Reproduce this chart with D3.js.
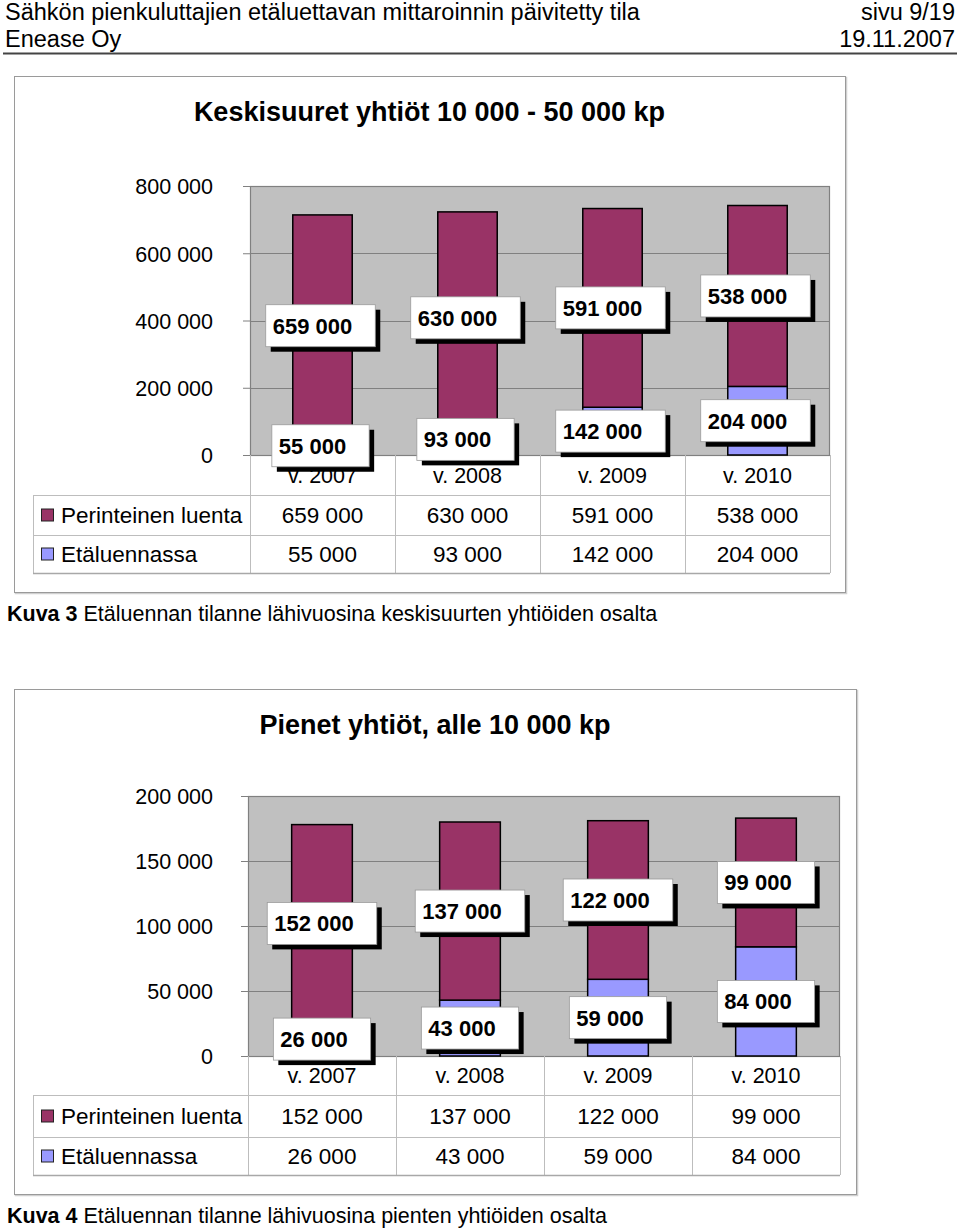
<!DOCTYPE html>
<html>
<head>
<meta charset="utf-8">
<script src="https://cdn.jsdelivr.net/npm/d3@7"></script>
<style>
  html, body { margin: 0; padding: 0; background: #fff; }
  svg { display: block; font-family: "Liberation Sans", Arial, Helvetica, sans-serif; }
</style>
</head>
<body>
<svg id="page" width="960" height="1228"></svg>
<script>
// ---- data ----
const categories = ["v. 2007", "v. 2008", "v. 2009", "v. 2010"];
const seriesNames = ["Perinteinen luenta", "Etäluennassa"];
const seriesColors = ["#993366", "#9999FF"];

const mediumTraditional = [659000, 630000, 591000, 538000];
const mediumRemote = [55000, 93000, 142000, 204000];
const mediumTicks = [0, 200000, 400000, 600000, 800000];

const smallTraditional = [152000, 137000, 122000, 99000];
const smallRemote = [26000, 43000, 59000, 84000];
const smallTicks = [0, 50000, 100000, 150000, 200000];

const headerLeft = ["Sähkön pienkuluttajien etäluettavan mittaroinnin päivitetty tila", "Enease Oy"];
const headerRight = ["sivu 9/19", "19.11.2007"];

const chart1Title = "Keskisuuret yhtiöt 10 000 - 50 000 kp";
const chart2Title = "Pienet yhtiöt, alle 10 000 kp";
const caption1 = ["Kuva 3", " Etäluennan tilanne lähivuosina keskisuurten yhtiöiden osalta"];
const caption2 = ["Kuva 4", " Etäluennan tilanne lähivuosina pienten yhtiöiden osalta"];

// ---- helpers ----
const fmt = d3.formatLocale({ thousands: " ", grouping: [3], decimal: ",", currency: ["", ""] }).format(",");
const svg = d3.select("#page");

// header
svg.append("text").attr("x", 5).attr("y", 20).attr("font-size", 23.5).attr("fill", "#000").text(headerLeft[0]);
svg.append("text").attr("x", 5).attr("y", 47).attr("font-size", 23.5).attr("fill", "#000").text(headerLeft[1]);
svg.append("text").attr("x", 955).attr("y", 20).attr("font-size", 23.5).attr("text-anchor", "end").text(headerRight[0]);
svg.append("text").attr("x", 955).attr("y", 47).attr("font-size", 23.5).attr("text-anchor", "end").text(headerRight[1]);
svg.append("line").attr("x1", 3).attr("x2", 957).attr("y1", 53.5).attr("y2", 53.5)
  .attr("stroke", "#444").attr("stroke-width", 2);

function drawChart(cfg) {
  const g = svg.append("g");
  const f = cfg.frame;
  // frame with slight shadow
  g.append("rect").attr("x", f.x + 1.5).attr("y", f.y + 1.5).attr("width", f.w).attr("height", f.h)
    .attr("fill", "none").attr("stroke", "#d0d0d0").attr("stroke-width", 1.5);
  g.append("rect").attr("x", f.x + 0.5).attr("y", f.y + 0.5).attr("width", f.w).attr("height", f.h)
    .attr("fill", "#fff").attr("stroke", "#9a9a9a").attr("stroke-width", 1);

  // title
  g.append("text").attr("x", f.x + f.w / 2).attr("y", cfg.titleY).attr("text-anchor", "middle")
    .attr("font-size", 27).attr("font-weight", "bold").text(cfg.title);

  const p = cfg.plot;
  const x = d3.scaleBand().domain(categories).range([p.l, p.r]).paddingInner(0.59).paddingOuter(0.295);
  const y = d3.scaleLinear().domain([0, cfg.ticks[cfg.ticks.length - 1]]).range([p.b, p.t]);
  const step = x.step();

  // plot background
  g.append("rect").attr("x", p.l).attr("y", p.t).attr("width", p.r - p.l).attr("height", p.b - p.t)
    .attr("fill", "#C0C0C0");
  // gridlines
  g.append("g").selectAll("line").data(cfg.ticks.slice(1, -1)).join("line")
    .attr("x1", p.l).attr("x2", p.r).attr("y1", d => Math.round(y(d)) + 0.5).attr("y2", d => Math.round(y(d)) + 0.5)
    .attr("stroke", "#808080").attr("stroke-width", 1);
  g.append("rect").attr("x", p.l + 0.5).attr("y", p.t + 0.5).attr("width", p.r - p.l - 1).attr("height", p.b - p.t)
    .attr("fill", "none").attr("stroke", "#808080").attr("stroke-width", 1.2);

  // y axis
  const ax = g.append("g").attr("transform", `translate(${p.l},0)`)
    .call(d3.axisLeft(y).tickValues(cfg.ticks).tickSize(7).tickPadding(p.l - 7 - 213).tickFormat(fmt));
  ax.select(".domain").attr("stroke", "#808080");
  ax.selectAll(".tick line").attr("stroke", "#808080");
  ax.selectAll(".tick text").attr("font-size", 21.5).attr("fill", "#000")
    .attr("font-family", "'Liberation Sans', Arial, sans-serif").attr("dy", "0.36em");

  // stacked bars
  const stackData = categories.map((c, i) => ({ cat: c, s0: cfg.remote[i], s1: cfg.trad[i] }));
  const stack = d3.stack().keys(["s0", "s1"])(stackData);
  const colorFor = { s0: seriesColors[1], s1: seriesColors[0] };
  stack.forEach(layer => {
    g.append("g").selectAll("rect").data(layer).join("rect")
      .attr("x", d => x(d.data.cat))
      .attr("y", d => y(d[1]))
      .attr("width", x.bandwidth())
      .attr("height", d => y(d[0]) - y(d[1]))
      .attr("fill", colorFor[layer.key])
      .attr("stroke", "#000").attr("stroke-width", 1.5);
  });

  // data table
  const t = cfg.table;
  const tg = g.append("g");
  const gridColor = "#bdbdbd";
  // vertical lines at band boundaries
  for (let i = 0; i <= categories.length; i++) {
    const xx = Math.round(p.l + i * step) + 0.5;
    tg.append("line").attr("x1", xx).attr("x2", xx).attr("y1", p.b).attr("y2", t.rows[2])
      .attr("stroke", gridColor);
  }
  tg.append("line").attr("x1", t.left + 0.5).attr("x2", t.left + 0.5).attr("y1", t.rows[0]).attr("y2", t.rows[2])
    .attr("stroke", gridColor);
  t.rows.forEach((ry, i) => {
    tg.append("line").attr("x1", t.left).attr("x2", p.r).attr("y1", ry + 0.5).attr("y2", ry + 0.5)
      .attr("stroke", i === 2 ? "#a8a8a8" : gridColor).attr("stroke-width", i === 2 ? 1.5 : 1);
  });
  // category labels
  tg.selectAll("text.cat").data(categories).join("text").attr("class", "cat")
    .attr("x", d => x(d) + x.bandwidth() / 2).attr("y", (p.b + t.rows[0]) / 2 + 7.5)
    .attr("text-anchor", "middle").attr("font-size", 21.5).text(d => d);
  // series rows
  const rowsData = [
    { name: seriesNames[0], color: seriesColors[0], vals: cfg.trad, top: t.rows[0], bot: t.rows[1] },
    { name: seriesNames[1], color: seriesColors[1], vals: cfg.remote, top: t.rows[1], bot: t.rows[2] }
  ];
  rowsData.forEach(r => {
    const cy = (r.top + r.bot) / 2;
    tg.append("rect").attr("x", 41.5).attr("y", cy - 6).attr("width", 12).attr("height", 12)
      .attr("fill", r.color).attr("stroke", "#222").attr("stroke-width", 1);
    tg.append("text").attr("x", 61).attr("y", cy + 8).attr("font-size", 22.5).text(r.name);
    tg.selectAll(null).data(r.vals).join("text")
      .attr("x", (d, i) => x(categories[i]) + x.bandwidth() / 2)
      .attr("y", cy + 8).attr("text-anchor", "middle").attr("font-size", 22.5)
      .text(d => fmt(d));
  });

  // data labels (boxes with shadow)
  const lg = g.append("g");
  stack.forEach(layer => {
    layer.forEach(d => {
      const cx = x(d.data.cat) + x.bandwidth() / 2 + cfg.labelDx;
      const cy = (y(d[0]) + y(d[1])) / 2;
      const val = d[1] - d[0];
      const grp = lg.append("g");
      const shadow = grp.append("rect").attr("fill", "#000");
      const box = grp.append("rect").attr("fill", "#fff").attr("stroke", "#9a9a9a").attr("stroke-width", 0.8);
      const txt = grp.append("text").attr("font-size", 22).attr("font-weight", "bold").text(fmt(val));
      const tw = txt.node().getComputedTextLength();
      const bw = tw + 30, bh = 42;
      const bx = cx - bw / 2, by = cy - bh / 2;
      shadow.attr("x", bx + 5).attr("y", by + 5).attr("width", bw).attr("height", bh);
      box.attr("x", bx).attr("y", by).attr("width", bw).attr("height", bh);
      txt.attr("x", bx + 7).attr("y", cy + 8);
    });
  });

  // caption
  const cap = svg.append("text").attr("x", 7).attr("y", cfg.captionY).attr("font-size", 21.5);
  cap.append("tspan").attr("font-weight", "bold").text(cfg.caption[0]);
  cap.append("tspan").text(cfg.caption[1]);
}

drawChart({
  frame: { x: 14, y: 76, w: 831, h: 516 },
  title: chart1Title, titleY: 121,
  plot: { l: 250, r: 830, t: 186, b: 455 },
  ticks: mediumTicks,
  trad: mediumTraditional, remote: mediumRemote,
  table: { left: 33, rows: [495, 535, 573] },
  labelDx: -2,
  caption: caption1, captionY: 621
});

drawChart({
  frame: { x: 14, y: 689, w: 842, h: 505 },
  title: chart2Title, titleY: 734,
  plot: { l: 248, r: 840, t: 796, b: 1056 },
  ticks: smallTicks,
  trad: smallTraditional, remote: smallRemote,
  table: { left: 33, rows: [1095, 1137, 1175] },
  labelDx: 0,
  caption: caption2, captionY: 1223
});
</script>
</body>
</html>
